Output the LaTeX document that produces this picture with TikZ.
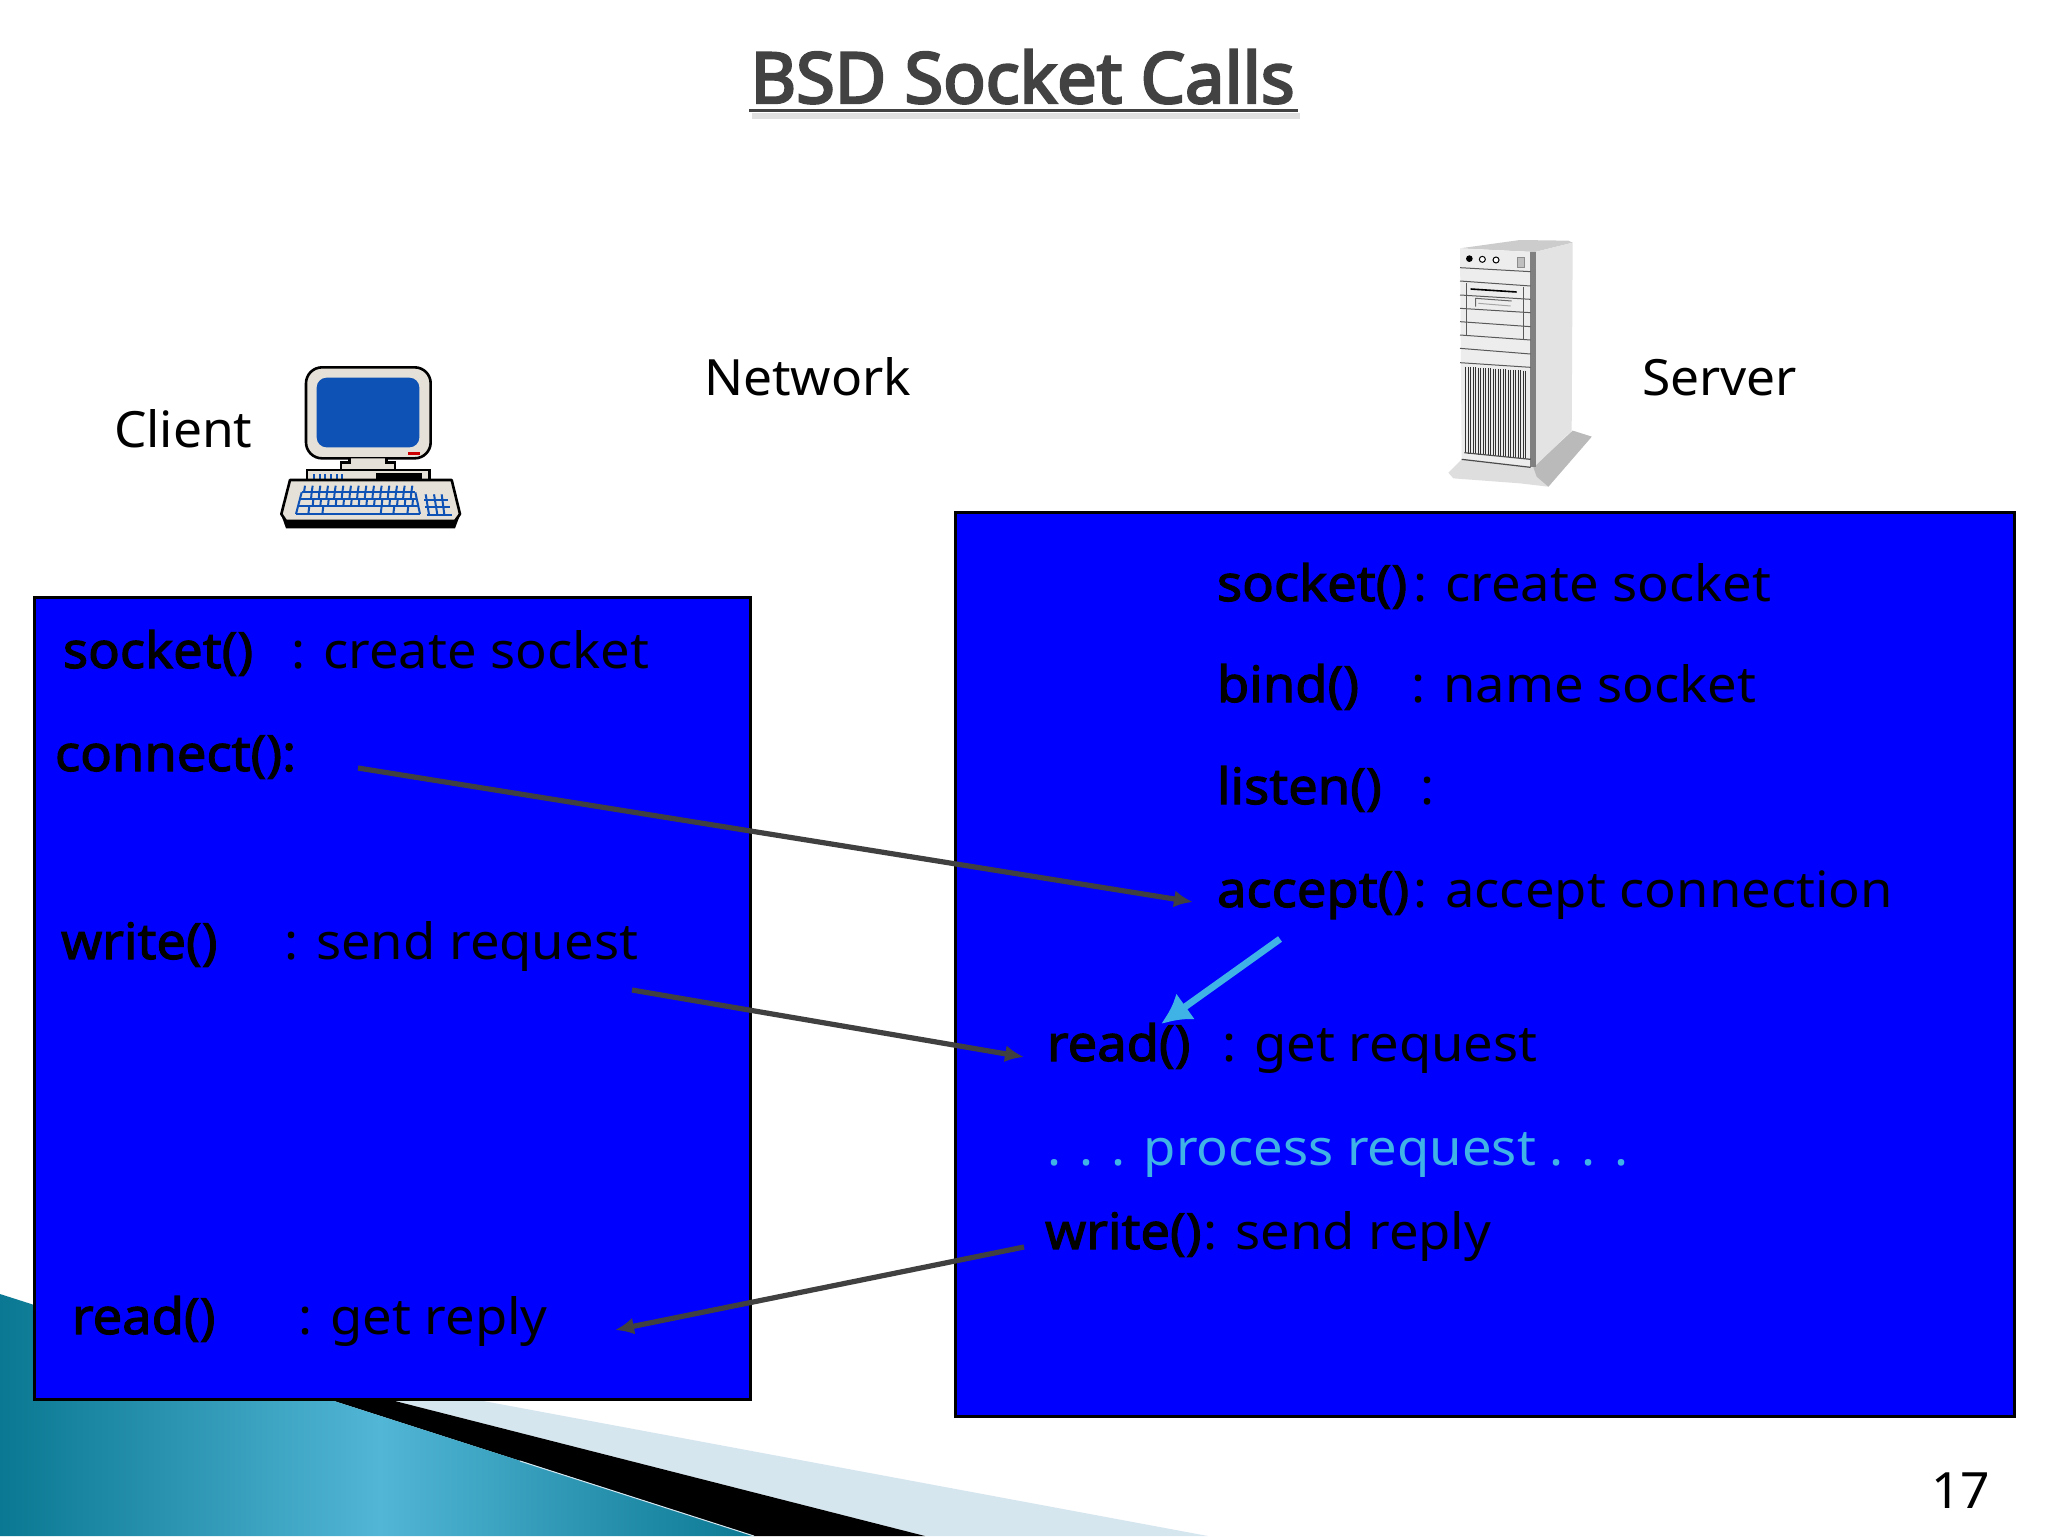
\documentclass[tikz,border=0pt]{standalone}
\usepackage{fontspec}
\usetikzlibrary{arrows.meta}
\setmainfont{Noto Sans}
\newfontface\reg{Noto Sans}[FakeStretch=1.05]
\newfontface\labf{Noto Sans}[FakeStretch=1.03]
\newfontface\fb{Noto Sans}[FakeBold=2.2,FakeStretch=1.05]
\newfontface\tb{Noto Sans}[FakeBold=3.5]
\definecolor{boxblue}{HTML}{0000FF}
\definecolor{arrgray}{HTML}{404040}
\definecolor{titlegray}{HTML}{424242}
\definecolor{skyb}{HTML}{3FB3E6}
\definecolor{keyblue}{HTML}{0F52B5}
\definecolor{beige}{HTML}{E5E1D8}
\definecolor{wedgelight}{HTML}{D6E6EF}
\definecolor{tealdark}{HTML}{0A7892}
\definecolor{teallight}{HTML}{52B6D6}
\begin{document}
\begin{tikzpicture}[x=0.5pt,y=-0.5pt,
  tx/.style={anchor=base west,inner sep=0pt,outer sep=0pt,font=\fontsize{25}{30}\selectfont\reg,text=black},
  fn/.style={tx,font=\fontsize{25}{30}\selectfont\fb},
  lab/.style={tx,font=\fontsize{25}{30}\selectfont\labf},
  panel/.style={draw=black,line width=1.4pt,fill=boxblue},
  arr/.style={draw=arrgray,line width=2.6pt,-{Latex[length=9.5pt,width=8.5pt]}},
  skyarr/.style={draw=skyb,line width=3.4pt,-{Latex[length=15pt,width=16pt]}},
  skey/.style={draw=keyblue,line width=1pt},
  outl/.style={draw=black,line width=1.3pt,fill=beige},
  srvline/.style={draw=black!65,line width=0.5pt}]
\useasboundingbox (0,0) rectangle (2048,1536);
\fill[white] (0,0) rectangle (2048,1536);
% bottom-left wedge
\fill[wedgelight] (391,1400) -- (478,1400) -- (1208,1536) -- (925,1536) -- cycle;
\fill[black] (331,1400) -- (391,1400) -- (925,1536) -- (754,1536) -- cycle;
\begin{scope}
 \clip (0,1294) -- (331,1400) -- (754,1536) -- (0,1536) -- cycle;
 \shade[left color=tealdark,right color=tealdark,middle color=teallight] (0,1294) rectangle (760,1536);
\end{scope}
\draw[wedgelight,line width=0.5pt] (520,1461) -- (754,1536);
% title
\node[anchor=base west,inner sep=0pt,text=titlegray,font=\fontsize{35.2}{40}\selectfont\tb] (title) at (750,103) {BSD Socket Calls};
\fill[black!12] (752,113) rectangle (1300,119);
\fill[titlegray] (749,109.5) rectangle (1298,112.5);
% panels
\node[panel,anchor=north west,minimum width=358pt,minimum height=401pt,inner sep=0pt] (left) at (33,596) {};
\node[panel,anchor=north west,minimum width=529.5pt,minimum height=452pt,inner sep=0pt] (right) at (954,511) {};
% labels
\node[lab] (network) at (704,395) {Network};
\node[lab] (server) at (1642,395) {Server};
\node[lab] (client) at (114,447) {Client};
\node[lab] (page) at (1931,1508) {17};
% client text
\node[fn] (ls) at (63,668) {socket()};
\node[tx] (lsd) at (291,668) {: create socket};
\node[fn] (lc) at (55,771) {connect():};
\node[fn] (lw) at (61,959) {write()};
\node[tx] (lwd) at (284,959) {: send request};
\node[fn] (lr) at (72,1334) {read()};
\node[tx] (lrd) at (298,1334) {: get reply};
% server text
\node[fn] (rs) at (1217,601) {socket()};
\node[tx] (rsd) at (1413,601) {: create socket};
\node[fn] (rb) at (1217,702) {bind()};
\node[tx] (rbd) at (1411,702) {: name socket};
\node[fn] (rl) at (1217,804) {listen()};
\node[tx] (rld) at (1420,804) {:};
\node[fn] (ra) at (1217,907) {accept()};
\node[tx] (rad) at (1413,907) {: accept connection};
\node[fn] (rr) at (1047,1061) {read()};
\node[tx] (rrd) at (1222,1061) {: get request};
\node[tx,text=skyb] (rp) at (1047,1165) {. . . process request . . .};
\node[fn] (rw) at (1045,1249) {write()};
\node[tx] (rwd) at (1203,1249) {: send reply};
% connector ends
\coordinate (a1) at (358,768); \coordinate (a2) at (1193,902);
\coordinate (b1) at (632,990); \coordinate (b2) at (1024,1057);
\coordinate (c1) at (1024,1247); \coordinate (c2) at (615,1330);
\coordinate (d1) at (1280,939); \coordinate (d2) at (1161,1024);
\draw[arr] (a1) -- (a2);
\draw[arr] (b1) -- (b2);
\draw[arr] (c1) -- (c2);
\draw[skyarr] (d1) -- (d2);
% computer (zoom coordinates: 3 units per pixel)
\begin{scope}[shift={(260,340)},x=0.16667pt,y=-0.16667pt]
 \draw[outl,rounded corners=8pt] (138,82) rectangle (512,355);
 \fill[keyblue,rounded corners=5pt] (170,113) rectangle (478,322);
 \fill[red!80!black] (445,335) rectangle (480,345);
 \draw[outl] (268,355) -- (268,368) -- (243,368) -- (243,390) -- (405,390) -- (405,368) -- (380,368) -- (380,355);
 \draw[outl] (141,390) rectangle (508,420);
 \fill[black] (347,400) rectangle (485,420);
 \foreach \k in {162,179,...,250} \draw[skey] (\k,402) -- (\k,418);
 \fill[black] (64,525) -- (78,565) -- (585,565) -- (600,525) -- cycle;
 \draw[outl,line join=round] (90,420) -- (575,420) -- (600,522) -- (585,543) -- (78,543) -- (64,522) -- cycle;
 \foreach \k in {0,...,14} \draw[skey] (135+23*\k,437) -- (132+23*\k,457);
 \draw[skey] (125,457) -- (466,457);
 \draw[skey] (121,478) -- (470,478);
 \draw[skey] (116,498) -- (474,498);
 \draw[skey] (108,522) -- (480,522);
 \draw[skey] (125,457) -- (108,522);
 \draw[skey] (466,457) -- (480,522);
 \foreach \k in {0,...,13} \draw[skey] (155+23*\k,457) -- (153+23*\k,478);
 \foreach \k in {0,...,13} \draw[skey] (160+23*\k,478) -- (158+23*\k,498);
 \foreach \k in {148,190,365,403,445} \draw[skey] (\k,498) -- (\k-3,522);
 % numeric pad
 \draw[skey] (492,480) -- (565,480);
 \draw[skey] (495,500) -- (570,500);
 \draw[skey] (500,524) -- (575,524);
 \draw[skey] (497,463) -- (507,524);
 \draw[skey] (522,463) -- (532,524);
 \draw[skey] (545,463) -- (553,524);
\end{scope}
% server
\begin{scope}[shift={(1420,220)},x=0.16667pt,y=-0.16667pt]
 \fill[black!13] (125,718) -- (335,742) -- (458,632) -- (515,650) -- (385,800) -- (300,790) -- (100,775) -- (85,758) -- cycle;
 \fill[black!27] (340,742) -- (458,632) -- (515,650) -- (385,800) -- (350,770) -- cycle;
 \fill[black!20] (120,85) -- (300,60) -- (445,62) -- (458,68) -- (345,96) -- cycle;
 \fill[black!7] (120,85) -- (332,96) -- (332,742) -- (125,718) -- cycle;
 \fill[black!11] (345,96) -- (458,68) -- (455,632) -- (345,738) -- cycle;
 \fill[black!50] (330,96) rectangle (347,740);
 \fill[black] (148,116) circle[radius=10];
 \draw[black,line width=0.5pt,fill=white] (187,118) circle[radius=9];
 \draw[black,line width=0.5pt,fill=white] (228,120) circle[radius=9];
 \draw[black!45,fill=black!25,line width=0.3pt] (293,113) rectangle (312,142);
 \foreach \ya/\yb in {143/155,183/198,225/238,265/278,305/320,345/360,385/402,428/442}
   \draw[srvline] (120,\ya) -- (332,\yb);
 \draw[srvline] (138,188) -- (138,345);
 \draw[srvline] (310,200) -- (310,358);
 \draw[black,line width=0.8pt] (152,207) -- (290,216);
 \draw[black!60,line width=0.5pt] (167,260) -- (167,235) -- (275,243);
 \draw[black!35,line width=0.5pt] (175,250) -- (272,258);
 \foreach \k in {0,...,24} \draw[black!80,line width=0.65pt] (137+7.5*\k,440+\k*0.5) -- (137+7.5*\k,700+\k*0.7);
 \draw[black!70,line width=0.6pt] (133,698) -- (332,718);
 \draw[black!70,line width=0.6pt] (125,718) -- (332,742);
\end{scope}
\end{tikzpicture}
\end{document}
